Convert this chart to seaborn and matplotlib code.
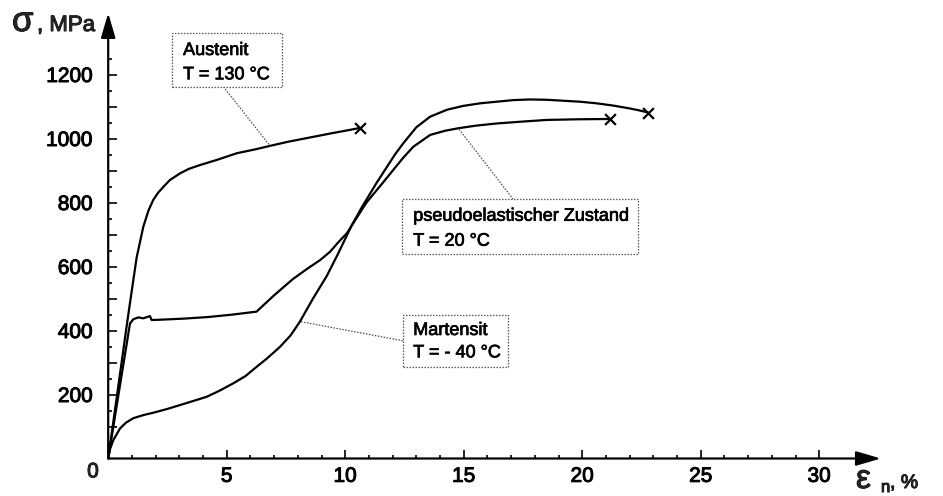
import numpy as np
import pandas as pd
import seaborn as sns
import matplotlib
matplotlib.use("Agg")
import matplotlib.pyplot as plt
import matplotlib.patheffects as pe
from matplotlib.patches import Rectangle

# Stress-strain curves of a shape-memory alloy (strain in %, stress in MPa)
austenit_eps = [0, 0.5, 0.8, 1.0, 1.2, 1.48, 1.7, 1.9, 2.1, 2.33, 2.6, 3.03, 3.4,
                3.87, 4.58, 5.43, 6.2, 6.83, 7.6, 8.5, 9.4, 10.2, 10.62]
austenit_sig = [0, 265, 425, 527, 628, 724, 775, 808, 830, 849, 870, 891, 905,
                917, 933, 954, 966, 977, 990, 1003, 1016, 1027, 1033]

pseudo_eps = [0, 0.5, 0.92, 1.06, 1.27, 1.48, 1.76, 1.83, 1.97, 3.17, 4.2, 5.28,
              6.26, 6.97, 7.78, 8.4, 8.94, 9.36, 9.7, 10.07, 10.25, 10.9, 11.68,
              12.03, 12.45, 12.87, 13.58, 14.2, 14.77, 15.5, 16.39, 17.5, 18.5,
              19.8, 21.17]
pseudo_sig = [0, 230, 422, 435, 441, 438, 445, 433, 433, 437, 442, 450,
              459, 508, 560, 593, 620, 646, 675, 704, 725, 800, 870,
              902, 940, 974, 1011, 1024, 1032, 1040, 1047, 1053, 1058,
              1060, 1061]

martensit_eps = [0, 0.08, 0.22, 0.5, 0.75, 1.06, 1.5, 1.9, 2.5, 3.03, 3.6, 4.16,
                 4.7, 5.28, 5.8, 6.27, 6.69, 7.25, 7.7, 8.09, 8.65, 9.22, 9.7,
                 10.25, 10.7, 11.33, 11.68, 12.1, 12.45, 13.0, 13.58, 14.3,
                 14.99, 15.7, 16.39, 17.1, 17.8, 18.5, 19.2, 19.9, 20.6, 21.3,
                 22.0, 22.4, 22.79]
martensit_sig = [0, 30, 58, 94, 112, 126, 136, 143, 155, 167, 180, 193,
                 212, 235, 258, 287, 312, 349, 385, 428, 501, 570, 640,
                 725, 785, 862, 902, 950, 985, 1035, 1068, 1090,
                 1102, 1110, 1115, 1120, 1122, 1121, 1118, 1115, 1110, 1103,
                 1094, 1088, 1081]

x_ticks = [0, 5, 10, 15, 20, 25, 30]
y_label_ticks = [200, 400, 600, 800, 1000, 1200]

df = pd.concat([
    pd.DataFrame({"eps": austenit_eps, "sigma": austenit_sig, "curve": "Austenit"}),
    pd.DataFrame({"eps": pseudo_eps, "sigma": pseudo_sig, "curve": "pseudo"}),
    pd.DataFrame({"eps": martensit_eps, "sigma": martensit_sig, "curve": "Martensit"}),
])
ends = df.groupby("curve", sort=False).tail(1)

sns.set_theme(style="white")
plt.rcParams["font.family"] = ["Liberation Sans", "DejaVu Sans"]

heavy = [pe.withStroke(linewidth=0.7, foreground="black")]

W, H = 943, 496
fig = plt.figure(figsize=(W / 100, H / 100), dpi=100)
x0_px, y0_px = 108.2, 458.5
sx, sy = 23.7, 0.32
xmax, ymax = 32.6, 1392
ax = fig.add_axes([x0_px / W, (H - y0_px) / H, xmax * sx / W, ymax * sy / H])

sns.lineplot(data=df, x="eps", y="sigma", units="curve", estimator=None,
             sort=False, color="black", lw=1.6, ax=ax)
ax.scatter(ends["eps"], ends["sigma"], marker="x", s=60, color="black",
           linewidths=1.6, zorder=5)

ax.set_xlim(0, xmax)
ax.set_ylim(0, ymax)
ax.set_xlabel("")
ax.set_ylabel("")
for s in ax.spines.values():
    s.set_visible(False)

# axis lines with arrow heads
arrow = dict(arrowstyle="-|>,head_length=0.75,head_width=0.22", lw=1.6,
             color="black", shrinkA=0, shrinkB=0, mutation_scale=20)
ax.annotate("", xy=(0, 1), xytext=(0, 0), xycoords="axes fraction",
            arrowprops=arrow, annotation_clip=False)
ax.annotate("", xy=(1, 0), xytext=(0, 0), xycoords="axes fraction",
            arrowprops=arrow, annotation_clip=False)

# ticks
ax.set_xticks(x_ticks)
ax.set_xticklabels([""] + [str(v) for v in x_ticks[1:]])
ax.set_xticks(np.arange(1, 31, 1), minor=True)
yt = np.arange(100, 1201, 100)
ax.set_yticks(yt)
ax.set_yticklabels([str(v) if v in y_label_ticks else "" for v in yt])
ax.set_yticks(np.arange(50, 1251, 50), minor=True)
ax.tick_params(which="both", direction="in", color="black", width=1.2,
               left=True, bottom=True)
ax.tick_params(which="major", length=6.2)
ax.tick_params(which="minor", length=3.2)
ax.tick_params(axis="y", which="major", labelsize=15, pad=11, labelcolor="black")
ax.tick_params(axis="x", which="major", labelsize=15, pad=6, labelcolor="black")
for lbl in ax.get_xticklabels() + ax.get_yticklabels():
    lbl.set_path_effects(heavy)
ax.text(-0.64, -12, "0", fontsize=15, ha="center", va="top", clip_on=False,
        path_effects=heavy)

# axis titles
fig.text(12 / W, 1 - 31 / H, "σ", fontsize=25, ha="left", va="baseline",
         path_effects=heavy)
fig.text(37 / W, 1 - 31 / H, ", MPa", fontsize=16, ha="left", va="baseline",
         path_effects=heavy)
fig.text(856 / W, 1 - 488 / H, "ε", fontsize=24, ha="left", va="baseline",
         path_effects=heavy)
fig.text(881 / W, 1 - 492 / H, "n", fontsize=12, ha="left", va="baseline",
         path_effects=heavy)
fig.text(890 / W, 1 - 488 / H, ", %", fontsize=14, ha="left", va="baseline",
         path_effects=heavy)


def callout(box, lines, text_x, baselines, start, target):
    (bx0, bx1), (by0, by1) = box
    ax.add_patch(Rectangle((bx0, by0), bx1 - bx0, by1 - by0, fc="white",
                           ec="0.35", lw=0.9, ls=(0, (1.2, 1.2)), zorder=6,
                           clip_on=False))
    for line, yb in zip(lines, baselines):
        ax.text(text_x, yb, line, fontsize=13, ha="left", va="baseline",
                zorder=7, color="black",
                path_effects=[pe.withStroke(linewidth=0.5, foreground="black")])
    ax.plot([start[0], target[0]], [start[1], target[1]], color="0.3",
            lw=0.9, ls=(0, (1.2, 1.2)), zorder=4)


callout(((2.68, 7.32), (1162, 1329)), ["Austenit", "T = 130 °C"], 3.16,
        [1261, 1185], (4.86, 1162), (6.83, 977))
callout(((12.43, 16.86), (287, 448)), ["Martensit", "T = - 40 °C"], 12.87,
        [386, 316], (12.43, 368), (8.09, 428))
callout(((12.38, 22.37), (639, 810)), ["pseudoelastischer Zustand", "T = 20 °C"],
        12.87, [743, 665], (17.09, 810), (14.77, 1032))

fig.savefig("out.png", dpi=100, facecolor="white")
